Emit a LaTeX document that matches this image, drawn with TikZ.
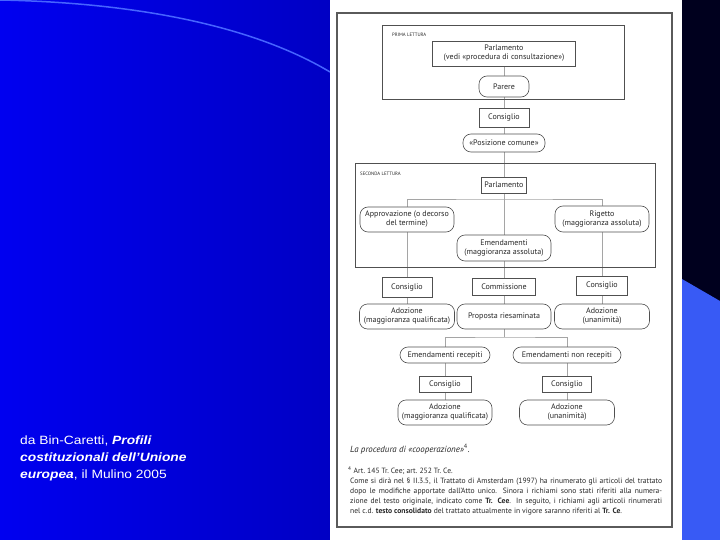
\documentclass[tikz,border=0pt]{standalone}
\usepackage{fontspec}
\setmainfont{PT Sans}
\newfontfamily\arialfont[FakeStretch=1.15]{Liberation Sans}
\pgfdeclarelayer{bg}
\pgfdeclarelayer{lines}
\pgfsetlayers{bg,lines,main}
\definecolor{bluL}{RGB}{0,0,240}
\definecolor{bluR}{RGB}{0,0,196}
\definecolor{arcblue}{RGB}{70,100,255}
\definecolor{navy}{RGB}{0,0,30}
\definecolor{lightblue}{RGB}{56,90,245}
\definecolor{boxgray}{RGB}{80,80,80}
\definecolor{linegray}{RGB}{165,165,165}
\definecolor{framegray}{RGB}{90,90,90}
\definecolor{txt}{RGB}{40,40,40}
\begin{document}
\begin{tikzpicture}[x=1pt,y=-1pt,
  box/.style={draw=boxgray, line width=0.6pt, fill=white, inner sep=0pt, align=center, text=txt, font=\fontsize{8}{9}\selectfont},
  rbox/.style={box, rounded corners=8pt},
  conn/.style={draw=linegray, line width=0.6pt},
  sect/.style={draw=boxgray, line width=0.6pt, inner sep=0pt},
  sectlabel/.style={anchor=base west, inner sep=0pt, text=txt, font=\fontsize{4.8}{5}\selectfont},
  note/.style={anchor=base west, inner sep=0pt, text=txt, font=\fontsize{7.6}{8}\selectfont},
  credit/.style={anchor=base west, inner sep=0pt, text=white, font=\arialfont\fontsize{12}{17}\selectfont}
]
\useasboundingbox (0,0) rectangle (720,540);
\begin{pgfonlayer}{bg}
\shade[left color=bluL, right color=bluR] (0,0) rectangle (330,540);
\draw[arcblue, line width=1.5pt] (0,0) .. controls (150,3) and (260,30) .. (330,72);
\fill[white] (330,0) rectangle (682,540);
\fill[navy] (682,0) rectangle (720,540);
\fill[lightblue] (682,279) -- (720,301) -- (720,540) -- (682,540) -- cycle;
\end{pgfonlayer}

% credit text
\node[credit] (cr1) at (20,444) {da Bin-Caretti, \textbf{\textit{Profili}}};
\node[credit] (cr2) at (20,461) {\textbf{\textit{costituzionali dell’Unione}}};
\node[credit] (cr3) at (20,478) {\textbf{\textit{europea}}, il Mulino 2005};

% page frame
\draw[framegray, line width=2pt] (337,13) rectangle (672,527);

% sections
\node[sect, minimum width=242pt, minimum height=74pt] (lett1) at (503,62) {};
\node[sect, minimum width=300pt, minimum height=104pt] (lett2) at (505,215) {};
\node[sectlabel] (lab1) at (392,37) {PRIMA LETTURA};
\node[sectlabel] (lab2) at (360,176) {SECONDA LETTURA};

% nodes
\node[box, minimum width=143pt, minimum height=25pt] (parl1) at (504,53.5) {Parlamento\\(vedi «procedura di consultazione»)};
\node[rbox, minimum width=50pt, minimum height=21pt] (parere) at (504,86.5) {Parere};
\node[box, minimum width=50pt, minimum height=19pt] (cons1) at (504,117.5) {Consiglio};
\node[rbox, minimum width=82pt, minimum height=18pt] (posiz) at (504,143) {«Posizione comune»};
\node[box, minimum width=45pt, minimum height=16pt] (parl2) at (504,185) {Parlamento};
\coordinate (j1) at (504,199);
\node[rbox, minimum width=94pt, minimum height=25pt] (approv) at (407,219.5) {Approvazione (o decorso\\del termine)};
\node[rbox, minimum width=94pt, minimum height=26pt] (rigetto) at (602,219) {Rigetto\\(maggioranza assoluta)};
\node[rbox, minimum width=94pt, minimum height=26pt] (emend) at (504,248) {Emendamenti\\(maggioranza assoluta)};
\node[box, minimum width=50pt, minimum height=20pt] (consL) at (407,287) {Consiglio};
\node[box, minimum width=63pt, minimum height=17pt] (comm) at (504,286.5) {Commissione};
\node[box, minimum width=51pt, minimum height=19pt] (consR) at (602,285.5) {Consiglio};
\node[rbox, minimum width=95pt, minimum height=25pt] (adozL) at (407,316.5) {Adozione\\(maggioranza qualificata)};
\node[rbox, minimum width=94pt, minimum height=25pt] (propos) at (504,316.5) {Proposta riesaminata};
\node[rbox, minimum width=95pt, minimum height=25pt] (adozR) at (602,316.5) {Adozione\\(unanimità)};
\coordinate (j2) at (504,337);
\node[rbox, minimum width=90pt, minimum height=16pt] (emrec) at (445,355) {Emendamenti recepiti};
\node[rbox, minimum width=108pt, minimum height=16pt] (emnon) at (567,355) {Emendamenti non recepiti};
\node[box, minimum width=52pt, minimum height=16pt] (consL2) at (445,384) {Consiglio};
\node[box, minimum width=49pt, minimum height=16pt] (consR2) at (567,384) {Consiglio};
\node[rbox, minimum width=94pt, minimum height=25pt] (adozL2) at (445,412.5) {Adozione\\(maggioranza qualificata)};
\node[rbox, minimum width=95pt, minimum height=25pt] (adozR2) at (567,412.5) {Adozione\\(unanimità)};

% connectors
\begin{pgfonlayer}{lines}
\draw[conn] (parl1) -- (parere);
\draw[conn] (parere) -- (cons1);
\draw[conn] (cons1) -- (posiz);
\draw[conn] (posiz) -- (parl2);
\draw[conn] (parl2) -- (emend);
\draw[conn] (emend) -- (comm);
\draw[conn] (comm) -- (propos);
\draw[conn] (propos) -- (j2);
\draw[conn] (approv) |- (j1) -| (rigetto);
\draw[conn] (approv) -- (consL);
\draw[conn] (consL) -- (adozL);
\draw[conn] (rigetto) -- (consR);
\draw[conn] (consR) -- (adozR);
\draw[conn] (emrec) |- (j2) -| (emnon);
\draw[conn] (emrec) -- (consL2);
\draw[conn] (consL2) -- (adozL2);
\draw[conn] (emnon) -- (consR2);
\draw[conn] (consR2) -- (adozR2);
\end{pgfonlayer}

% caption and note
\node[anchor=base west, inner sep=0pt, text=txt, font=\fontsize{8.9}{10}\selectfont\itshape] (cap) at (350,452) {La procedura di «cooperazione»\textsuperscript{\upshape 4}.};
\node[note] (fn1) at (348,473) {\textsuperscript{4}\ Art.~145 Tr.~Cee; art.~252 Tr.~Ce.};
\node[note] (fn2) at (350,483) {\makebox[312pt][s]{Come si dirà nel § II.3.5, il Trattato di Amsterdam (1997) ha rinumerato gli articoli del trattato}};
\node[note] (fn3) at (350,493) {\makebox[312pt][s]{dopo le modifiche apportate dall’Atto unico. Sinora i richiami sono stati riferiti alla numera-}};
\node[note] (fn4) at (350,503) {\makebox[312pt][s]{zione del testo originale, indicato come \textbf{Tr. Cee}. In seguito, i richiami agli articoli rinumerati}};
\node[note] (fn5) at (350,513) {nel c.d. \textbf{testo consolidato} del trattato attualmente in vigore saranno riferiti al \textbf{Tr. Ce}.};
\end{tikzpicture}
\end{document}
